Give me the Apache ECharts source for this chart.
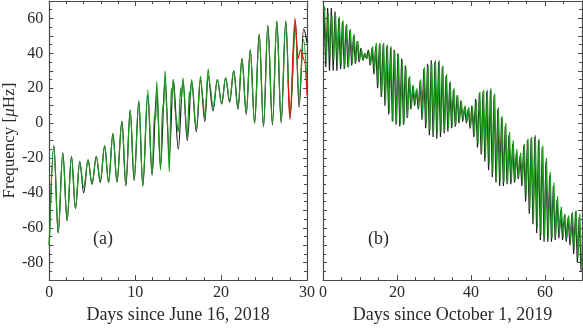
<!DOCTYPE html>
<html>
<head>
<meta charset="utf-8">
<script src="https://cdn.jsdelivr.net/npm/echarts@6/dist/echarts.min.js"></script>
<style>
    html, body { margin: 0; padding: 0; background: #ffffff; }
    #chart { width: 583px; height: 329px; }
</style>
</head>
<body>
<div id="chart"></div>
<script>
// panel (a): extrema, [day, frequency]
const leftBlack = [
    [0, -70], [0.54, -13], [1.04, -63], [1.58, -17], [2.08, -56], [2.59, -19],
    [3.05, -49], [3.55, -22], [4.01, -40], [4.52, -21], [4.98, -35], [5.48, -19],
    [5.94, -34], [6.45, -13], [6.91, -34], [7.41, -6], [7.88, -34], [8.46, 1],
    [8.92, -36], [9.42, 7.5], [9.88, -33], [10.43, 12], [10.89, -36], [11.47, 16],
    [11.97, -30], [12.51, 19], [12.95, -25], [13.48, 25], [13.98, -19], [14.44, 25],
    [15.02, -15], [15.56, 24], [16.07, -10], [16.57, 24], [17.12, -5], [17.61, 25],
    [18.11, 1], [18.5, 27], [19.06, 7], [19.57, 25], [20.07, 11], [20.53, 26],
    [21.0, 12], [21.47, 30], [21.97, 8], [22.43, 37], [22.93, 5], [23.4, 42],
    [23.9, 0], [24.44, 51], [24.94, -2], [25.44, 56], [25.98, -1], [26.49, 58.5],
    [26.99, 0], [27.53, 58.5], [28.03, 3], [28.65, 58], [29.08, 9], [29.6, 54],
    [30, 46]
];

const leftGreen = [
    [0, -70], [0.54, -13], [1.04, -63], [1.58, -17], [2.08, -56], [2.59, -19],
    [3.05, -49], [3.55, -22], [4.01, -37], [4.52, -21], [4.98, -35], [5.48, -19],
    [5.94, -33], [6.45, -13], [6.91, -34], [7.41, -6], [7.88, -33], [8.46, 1],
    [8.92, -35], [9.42, 7.5], [9.88, -32], [10.43, 13], [10.89, -36], [11.47, 19],
    [11.97, -29], [12.25, 5], [12.4, 2], [12.51, 24], [12.95, -27], [13.2, 10],
    [13.3, 8], [13.48, 30], [13.7, 5], [13.98, -28], [14.2, 20], [14.3, 15],
    [14.44, 25], [14.7, 5], [15.02, -5], [15.3, 20], [15.4, 14], [15.56, 26],
    [16.07, -8], [16.3, 18], [16.4, 14], [16.57, 25], [17.12, -3], [17.61, 27],
    [17.85, 15], [18.11, 3], [18.5, 31], [18.7, 22], [19.06, 9], [19.57, 25],
    [20.07, 11], [20.53, 26], [21.0, 13], [21.47, 30], [21.97, 9], [22.43, 37],
    [22.93, 6], [23.4, 42], [23.9, 0], [24.44, 51], [24.94, -2], [25.44, 56],
    [25.98, 0], [26.49, 58.5], [26.99, 1], [27.53, 58.5], [28.03, 5], [28.65, 55],
    [29.08, 14], [29.6, 48], [30, 22]
];

const leftRed = [
    [27.8, 25], [28.0, 2], [28.6, 60], [28.95, 37], [29.25, 42], [29.7, 36], [30, 16]
];

// panel (b): one peak and one trough per day, days 0..69
const rightBlackHi = [
    64, 66, 66, 64, 60, 58, 56, 53, 50, 47,
    43, 40, 42, 43, 44, 45, 45, 44, 43, 42,
    40, 37, 33, 26, 21, 19, 24, 31, 34, 36,
    35, 35, 32, 27, 23, 19, 16, 13, 9, 8,
    10, 14, 17, 18, 18, 19, 16, 8, 3, -2,
    -7, -12, -17, -19, -13, -10, -9, -8, -10, -14,
    -22, -30, -36, -44, -50, -53, -54, -52, -51, -54
];
const rightBlackLo = [
    32, 30, 30, 30, 31, 31, 32, 33, 34, 35,
    36, 37, 33, 28, 20, 15, 10, 5, 1, -1,
    -2, -1, 3, 8, 10, 8, 2, -3, -7, -8,
    -9, -8, -6, -5, -3, -2, 0, 1, 0, -3,
    -8, -14, -18, -22, -27, -31, -34, -36, -36, -35,
    -35, -34, -32, -36, -45, -52, -58, -63, -67, -68,
    -68, -68, -67, -66, -67, -68, -70, -75, -80, -85
];
const rightGreenHi = [
    67, 63, 62, 62, 61, 59, 57, 54, 51, 47,
    42, 40, 41, 44, 46, 46, 46, 45, 44, 41,
    39, 36, 32, 27, 22, 20, 25, 32, 33, 34,
    36, 36, 33, 28, 24, 20, 16, 12, 10, 9,
    9, 13, 18, 19, 19, 20, 17, 9, 4, 0,
    -5, -10, -15, -17, -12, -9, -8, -7, -9, -13,
    -20, -28, -34, -42, -48, -52, -53, -51, -50, -52
];
const rightGreenLo = [
    36, 38, 36, 34, 33, 32, 32, 34, 35, 36,
    36, 37, 34, 30, 22, 17, 12, 6, 1, 0,
    -1, 0, 4, 9, 11, 9, 3, -1, -4, -5,
    -6, -5, -4, -3, -2, -1, 1, 2, 1, -2,
    -7, -12, -16, -20, -24, -28, -31, -33, -34, -34,
    -34, -33, -31, -34, -42, -49, -55, -60, -64, -65,
    -66, -66, -65, -64, -65, -66, -68, -72, -77, -82
];

const yLabels = [-80, -60, -40, -20, 0, 20, 40, 60];

const FONT = '"Liberation Serif", "DejaVu Serif", serif';
const FRAME = "#4a4a4a";
const TEXT = "#2a2a2a";

function zigzag(hi, lo, shift) {
    const points = [];
    hi.forEach((h, i) => {
        points.push([i + 0.25 + shift, h]);
        points.push([i + 0.75 + shift, lo[i]]);
    });
    return points;
}

function xAxis(gridIndex, position, max, interval, minorSplit, name) {
    const labelled = position === "bottom";
    return {
        type: "value",
        gridIndex: gridIndex,
        position: position,
        min: 0,
        max: max,
        interval: interval,
        axisLine: { show: true, onZero: false, lineStyle: { color: FRAME, width: 1.2 } },
        axisTick: { show: true, inside: true, length: 5, lineStyle: { color: FRAME } },
        minorTick: { show: true, splitNumber: minorSplit, length: 3, lineStyle: { color: FRAME } },
        splitLine: { show: false },
        axisLabel: {
            show: labelled,
            showMaxLabel: max % interval === 0,
            margin: 5,
            color: TEXT,
            fontFamily: FONT,
            fontSize: 16
        },
        name: labelled ? name : "",
        nameLocation: "middle",
        nameGap: 23,
        nameTextStyle: { color: TEXT, fontFamily: FONT, fontSize: 18 }
    };
}

function yAxis(gridIndex, position, withLabels) {
    return {
        type: "value",
        gridIndex: gridIndex,
        position: position,
        min: -90,
        max: 70,
        interval: 10,
        axisLine: { show: true, onZero: false, lineStyle: { color: FRAME, width: 1.2 } },
        axisTick: { show: true, inside: true, length: 4, lineStyle: { color: FRAME } },
        minorTick: { show: true, splitNumber: 2, length: 3, lineStyle: { color: FRAME } },
        splitLine: { show: false },
        axisLabel: {
            show: withLabels,
            margin: 6,
            color: TEXT,
            fontFamily: FONT,
            fontSize: 16,
            formatter: value => (yLabels.includes(value) ? String(value) : "")
        },
        name: withLabels ? "Frequency [{i|μ}Hz]" : "",
        nameLocation: "middle",
        nameGap: 30,
        nameTextStyle: {
            color: TEXT,
            fontFamily: FONT,
            fontSize: 17,
            rich: {
                i: { fontStyle: "italic", fontFamily: FONT, fontSize: 17, color: TEXT }
            }
        }
    };
}

function lineSeries(data, color, xIndex, yIndex, smooth) {
    return {
        type: "line",
        data: data,
        xAxisIndex: xIndex,
        yAxisIndex: yIndex,
        showSymbol: false,
        smooth: smooth,
        smoothMonotone: "x",
        lineStyle: { color: color, width: 1.2 },
        animation: false
    };
}

const chart = echarts.init(document.getElementById("chart"), null, { renderer: "canvas" });

chart.setOption({
    animation: false,
    grid: [
        { left: 48, top: 1, width: 259, height: 284 },
        { left: 323, top: 1, width: 259, height: 284 }
    ],
    xAxis: [
        xAxis(0, "bottom", 30, 10, 5, "Days since June 16, 2018"),
        xAxis(0, "top", 30, 10, 5, ""),
        xAxis(1, "bottom", 70, 20, 4, "Days since October 1, 2019"),
        xAxis(1, "top", 70, 20, 4, "")
    ],
    yAxis: [
        yAxis(0, "left", true),
        yAxis(0, "right", false),
        yAxis(1, "left", false),
        yAxis(1, "right", false)
    ],
    series: [
        lineSeries(leftBlack, "#1e1e1e", 0, 0, 0.35),
        lineSeries(leftGreen, "#1f9a1f", 0, 0, 0.35),
        lineSeries(leftRed, "#e8140c", 0, 0, 0.35),
        lineSeries(zigzag(rightBlackHi, rightBlackLo, 0), "#1e1e1e", 2, 2, false),
        lineSeries(zigzag(rightGreenHi, rightGreenLo, 0.15), "#1f9a1f", 2, 2, false)
    ],
    graphic: [
        {
            type: "text",
            left: 93,
            top: 230,
            style: { text: "(a)", fill: TEXT, font: "18px " + FONT }
        },
        {
            type: "text",
            left: 368,
            top: 230,
            style: { text: "(b)", fill: TEXT, font: "18px " + FONT }
        }
    ]
});
</script>
</body>
</html>
